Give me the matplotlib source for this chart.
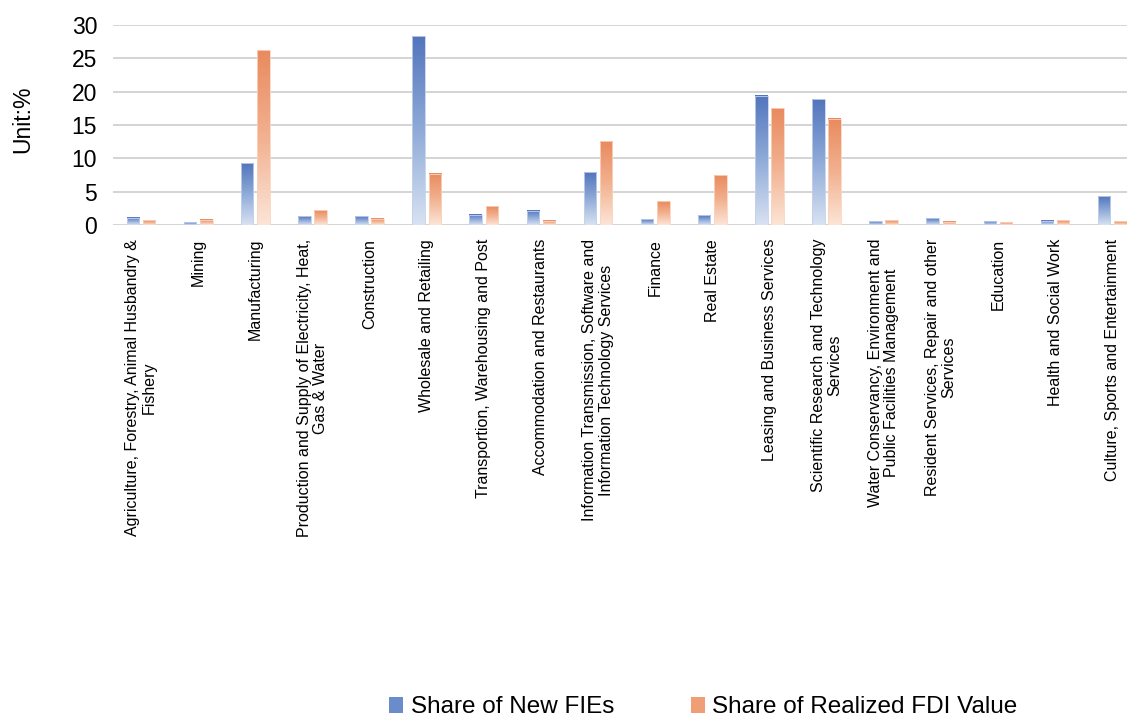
import numpy as np
import matplotlib.pyplot as plt
from matplotlib.colors import LinearSegmentedColormap
from matplotlib.patches import Patch

# -----------------------------
# DATA
# -----------------------------
categories = [
    "Agriculture, Forestry, Animal Husbandry &\nFishery",
    "Mining",
    "Manufacturing",
    "Production and Supply of Electricity, Heat,\nGas & Water",
    "Construction",
    "Wholesale and Retailing",
    "Transportion, Warehousing and Post",
    "Accommodation and Restaurants",
    "Information Transmission, Software and\nInformation Technology Services",
    "Finance",
    "Real Estate",
    "Leasing and Business Services",
    "Scientific Research and Technology\nServices",
    "Water Conservancy, Environment and\nPublic Facilities Management",
    "Resident Services, Repair and other\nServices",
    "Education",
    "Health and Social Work",
    "Culture, Sports and Entertainment",
]
new_fies = [1.1, 0.45, 9.25, 1.35, 1.3, 28.3, 1.55, 2.15, 7.95, 0.9, 1.5,
            19.4, 18.9, 0.6, 1.05, 0.6, 0.65, 4.35]
realized_fdi = [0.7, 0.8, 26.25, 2.2, 0.95, 7.7, 2.8, 0.65, 12.6, 3.6, 7.5,
                17.5, 15.95, 0.75, 0.5, 0.45, 0.75, 0.6]
series_names = ["Share of New FIEs", "Share of Realized FDI Value"]
yticks = [0, 5, 10, 15, 20, 25, 30]

plt.rcParams['font.family'] = ['Liberation Sans', 'DejaVu Sans']

blue_cmap = LinearSegmentedColormap.from_list("b", ["#d8e2f2", "#90abd8", "#5275bd"])
orange_cmap = LinearSegmentedColormap.from_list("o", ["#fce5d7", "#f2b190", "#e98a5e"])
grad = np.linspace(0, 1, 256).reshape(-1, 1)

fig = plt.figure(figsize=(11.27, 7.19), dpi=100)
ax = fig.add_axes([112.5 / 1127, 1 - 225 / 719, 1 - 112.5 / 1127, 200 / 719])

x = np.arange(len(categories))
w = 0.22
off = 0.142

# -----------------------------
# GRADIENT BARS
# -----------------------------
for vals, sign, cmap, edge in [(new_fies, -1, blue_cmap, "#c3d1ec"),
                               (realized_fdi, 1, orange_cmap, "#fad5bd")]:
    bars = ax.bar(x + sign * off, vals, width=w, color='none', edgecolor=edge,
                  linewidth=0.6, zorder=3)
    for b in bars:
        x0 = b.get_x()
        ax.imshow(grad, cmap=cmap, origin='lower', aspect='auto',
                  extent=[x0, x0 + b.get_width(), 0, b.get_height()], zorder=2)

ax.set_xlim(-0.5, 17.26)
ax.set_ylim(0, 30)
ax.set_yticks(yticks)
ax.yaxis.grid(True, color='#d4d4d4', linewidth=1.4, zorder=0)
ax.set_axisbelow(True)
for s in ax.spines.values():
    s.set_visible(False)
ax.tick_params(axis='y', length=0, labelsize=16.5, pad=11)
ax.tick_params(axis='x', length=0, pad=10)
ax.set_ylabel("Unit:%", fontsize=16.5)
ax.yaxis.set_label_coords(-0.077, 0.53)

ax.set_xticks(x)
ax.set_xticklabels(categories, rotation=90, fontsize=11.5, ha='center', va='top',
                   multialignment='center', linespacing=1.1)

handles = [Patch(facecolor="#6a8cca"), Patch(facecolor="#ef9e76")]
fig.legend(handles, series_names, loc='center', bbox_to_anchor=(0.624, 0.016),
           ncol=2, frameon=False, fontsize=17.5, handlelength=0.6, handleheight=0.6,
           handletextpad=0.3, columnspacing=3.15)

plt.savefig("out.png", dpi=100)
